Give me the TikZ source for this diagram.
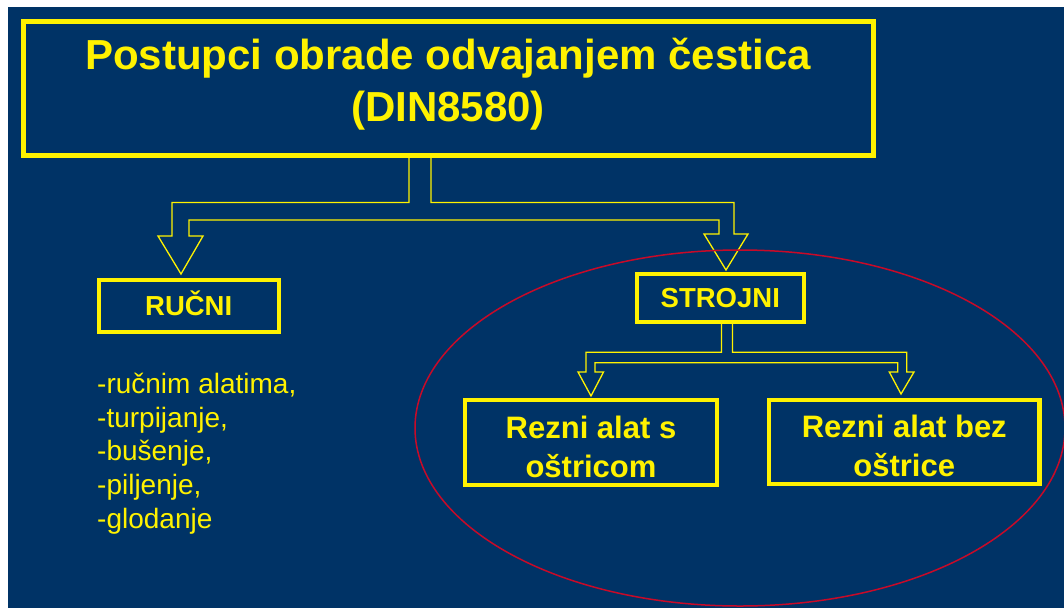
\documentclass[tikz,border=0pt]{standalone}
\usepackage{fontspec}
\setmainfont{Liberation Sans}
\usetikzlibrary{calc}
\definecolor{bgblue}{RGB}{0,51,102}
\definecolor{ellred}{RGB}{200,10,40}
\begin{document}
\begin{tikzpicture}[x=1pt,y=-1pt,
  box/.style={draw=yellow, line width=4pt, text=yellow, inner sep=0pt, align=center,
    font=\bfseries\fontsize{27.5}{33}\selectfont},
  bigbox/.style={box, line width=5pt},
  subbox/.style={box, line width=4.5pt},
  boxtext/.style={text=yellow, inner sep=0pt, align=center},
  bigtext/.style={boxtext, font=\bfseries\fontsize{42}{52}\selectfont},
  subtext/.style={boxtext, font=\bfseries\fontsize{31}{39}\selectfont},
  capsbox/.style={box, text height=19.7pt, text depth=0pt},
  hollow/.style={draw=yellow, line width=1.3pt, line join=miter},
  listtext/.style={text=yellow, inner sep=0pt, align=left, font=\fontsize{28}{33.75}\selectfont},
  ring/.style={draw=ellred, line width=1.5pt}]
\useasboundingbox (0,0) rectangle (1064,608);
\fill[white] (0,0) rectangle (1064,608);
\fill[bgblue] (8,7) rectangle (1064,608);

\node[bigbox, minimum width=850pt, minimum height=134pt] (title) at (448,88.5) {};
\node[bigtext, yshift=4pt] (titletext) at (title.center)
  {Postupci obrade odvajanjem čestica\\(DIN8580)};
\node[capsbox, minimum width=180pt, minimum height=52pt] (rucni) at (188.7,306) {RUČNI};
\node[capsbox, minimum width=166.7pt, minimum height=48.3pt] (strojni) at (720.3,297.8) {STROJNI};
\node[subbox, minimum width=252pt, minimum height=85pt] (sa) at (591,442.5) {};
\node[subtext, yshift=-4pt] (satext) at (sa.center) {Rezni alat s\\oštricom};
\node[subbox, minimum width=270.5pt, minimum height=84pt] (bez) at (904.25,442) {};
\node[subtext, yshift=-4pt] (beztext) at (bez.center) {Rezni alat bez\\oštrice};

\node[listtext, anchor=north west] (list) at (97,372.8)
  {-ručnim alatima,\\-turpijanje,\\-bušenje,\\-piljenje,\\-glodanje};

\coordinate (tipA) at (181,274);
\coordinate (tipB) at (726,270);
\coordinate (tipC) at (591,396);
\coordinate (tipD) at (901,394);

\draw[hollow] ($(title.south)+(-39,0)$) |- (172,202.5) -- (172,236) -- (158,236) -- (tipA)
  -- (203,236) -- (189,236) -- (189,220) -- (719,220) -- (719,234) -- (704,234) -- (tipB)
  -- (748,234) -- (734,234) -- (734,202.5) -| ($(title.south)+(-17,0)$);

\draw[hollow] ($(strojni.south)+(1.2,0)$) |- (586,352.3) -- (586,372) -- (578,372) -- (tipC)
  -- (603.5,372) -- (595,372) -- (595,362.7) -- (897.7,362.7) -- (897.7,372) -- (889.3,372)
  -- (tipD) -- (914,372) -- (906.7,372) -- (906.7,352.3) -| ($(strojni.south)+(12.2,0)$);

\draw[ring] (740,428) ellipse [x radius=325pt, y radius=178pt];
\end{tikzpicture}
\end{document}
